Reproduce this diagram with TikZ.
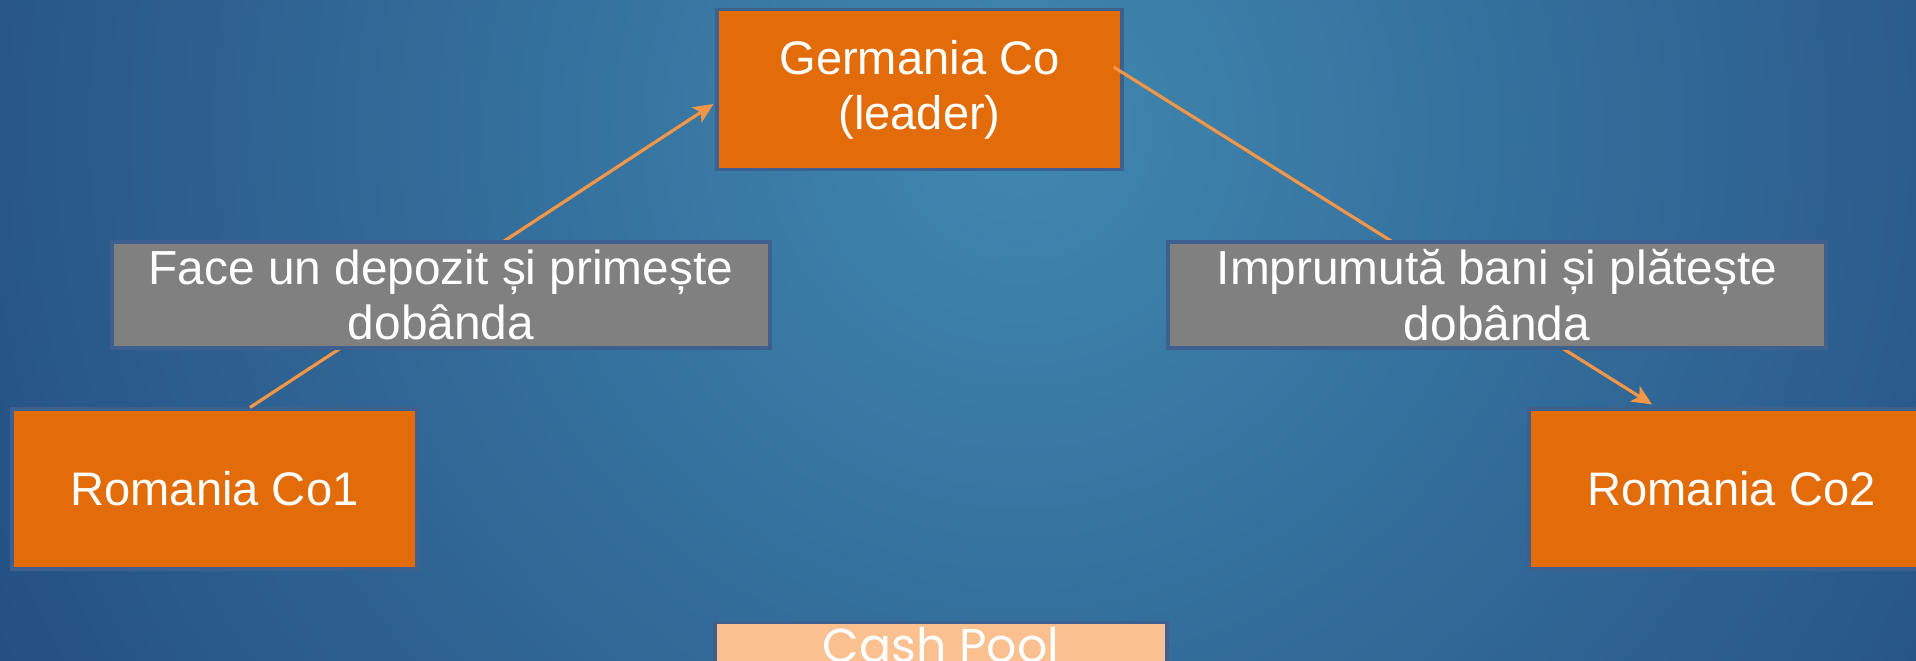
\documentclass[tikz,border=0pt]{standalone}
\usepackage{fontspec}
\setmainfont{Liberation Sans}
\newfontfamily\poolfont{Poppins}
\usetikzlibrary{arrows.meta}

\definecolor{bglight}{RGB}{64,136,176}
\definecolor{bgdark}{RGB}{22,48,106}
\definecolor{boxorange}{RGB}{227,108,10}
\definecolor{boxedge}{RGB}{62,96,142}
\definecolor{arroworange}{RGB}{247,150,70}
\definecolor{poolpeach}{RGB}{250,192,144}

\tikzset{
  company/.style={draw=boxedge, line width=.9pt, fill=boxorange, text=white,
    minimum width=4.05cm, minimum height=1.6cm, align=center, inner sep=0pt,
    font=\fontsize{13.4}{15.6}\selectfont},
  flowlabel/.style={draw=boxedge, line width=.9pt, fill=gray, text=white,
    minimum width=6.58cm, minimum height=1.06cm, align=center, inner sep=0pt,
    font=\fontsize{13.6}{15.8}\selectfont},
  flow/.style={->, >={Stealth[length=2mm,width=1.8mm,inset=.5mm]}, arroworange, line width=.9pt}
}

\begin{document}
\begin{tikzpicture}
\useasboundingbox (0,0) rectangle (19.16,-6.61);
\clip (0,0) rectangle (19.16,-6.61);
\shade[inner color=bglight, outer color=bgdark] (10.2,-1.3) circle (18);

\node[company] (germ) at (9.195,-0.895) {Germania Co\\(leader)};
\node[company] (co1) at (2.145,-4.89) {Romania Co1};
\node[company] (co2) at (17.315,-4.89) {Romania Co2};

\draw[flow] ([xshift=3.55mm]co1.north) -- ([xshift=-0.2mm,yshift=-1.45mm]germ.west);
\draw[flow] ([xshift=-1mm,yshift=2.25mm]germ.east) -- ([xshift=-7.95mm,yshift=0.3mm]co2.north);

\node[flowlabel] (deposit) at (4.41,-2.95) {Face un depozit și primește\\dobânda};
\node[flowlabel] (loan) at (14.97,-2.95) {Imprumută bani și plătește\\dobânda};

\node[draw=boxedge, line width=.9pt, fill=poolpeach, text=white, anchor=north,
  minimum width=4.52cm, inner ysep=.5mm, font=\poolfont\fontsize{13.5}{16}\selectfont]
  (pool) at (9.41,-6.21) {Cash Pool};
\end{tikzpicture}
\end{document}
